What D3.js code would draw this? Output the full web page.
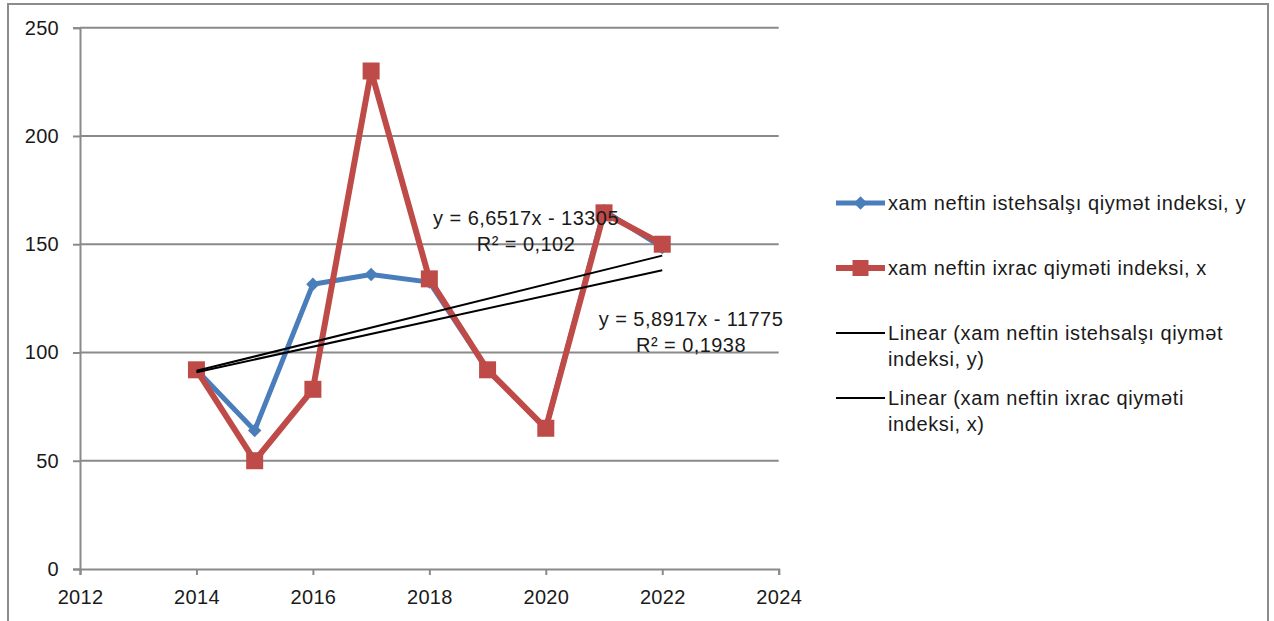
<!DOCTYPE html>
<html>
<head>
<meta charset="utf-8">
<script src="https://cdn.jsdelivr.net/npm/d3@7/dist/d3.min.js"></script>
<style>
  html, body { margin: 0; padding: 0; background: #fff; }
  svg { display: block; }
  text { font-family: "Liberation Sans", Arial, sans-serif; fill: #1a1a1a; }
</style>
</head>
<body>
<svg id="chart" width="1274" height="621"></svg>
<script>
// ---- data ----
const years = [2014, 2015, 2016, 2017, 2018, 2019, 2020, 2021, 2022];
const productionIndex = [92, 64, 131.5, 136, 132.5, 92, 65, 165.5, 148.5];   // y (blue)
const exportIndex = [92, 50, 83, 230, 134, 92, 65, 164.5, 150];              // x (red)
const xTicks = [2012, 2014, 2016, 2018, 2020, 2022, 2024];
const yTicks = [0, 50, 100, 150, 200, 250];
const seriesNames = [
  "xam neftin istehsalşı qiymət indeksi, y",
  "xam neftin ixrac qiyməti indeksi, x"
];
const trendNames = [
  ["Linear (xam neftin istehsalşı qiymət", "indeksi, y)"],
  ["Linear (xam neftin ixrac qiyməti", "indeksi, x)"]
];
// trend equations as labelled: [slope, intercept]
const trendProduction = [5.8917, -11775];
const trendExport = [6.6517, -13305];
const trendProductionLabel = ["y = 5,8917x - 11775", "R² = 0,1938"];
const trendExportLabel = ["y = 6,6517x - 13305", "R² = 0,102"];

// ---- layout ----
const svg = d3.select("#chart");
const blue = "#4a7ebb", red = "#be4b48", gridCol = "#8a8a8a";
const x = d3.scaleLinear().domain([2012, 2024]).range([80, 778.7]);
const y = d3.scaleLinear().domain([0, 250]).range([569, 27.7]);

// outer border
svg.append("rect").attr("x", 8).attr("y", 4).attr("width", 1260).attr("height", 640)
  .attr("fill", "#fff").attr("stroke", "#8c8c8c").attr("stroke-width", 2);

// gridlines
svg.append("g").selectAll("line").data(yTicks.filter(d => d > 0)).join("line")
  .attr("x1", x(2012)).attr("x2", x(2024))
  .attr("y1", d => y(d)).attr("y2", d => y(d))
  .attr("stroke", gridCol).attr("stroke-width", 2);

// axes
const yAxis = svg.append("g").attr("transform", `translate(${x(2012)},0)`)
  .call(d3.axisLeft(y).tickValues(yTicks).tickSize(7).tickPadding(14).tickFormat(d3.format("d")));
const xAxis = svg.append("g").attr("transform", `translate(0,${y(0)})`)
  .call(d3.axisBottom(x).tickValues(xTicks).tickSize(6).tickPadding(10).tickFormat(d3.format("d")));
[yAxis, xAxis].forEach(a => {
  a.select(".domain").attr("stroke", gridCol).attr("stroke-width", 2);
  a.selectAll(".tick line").attr("stroke", gridCol).attr("stroke-width", 2);
  a.selectAll(".tick text").attr("font-size", 20).attr("font-family", "Liberation Sans, Arial, sans-serif")
    .attr("fill", "#1a1a1a").attr("letter-spacing", 0.3);
});
xAxis.selectAll(".tick text").attr("dy", "0.95em");

// series
const line = d3.line().x((d, i) => x(years[i])).y(d => y(d));
const diamondPath = d3.symbol().type(d3.symbolSquare).size(90);

// blue series
svg.append("path").datum(productionIndex).attr("d", line)
  .attr("fill", "none").attr("stroke", blue).attr("stroke-width", 5).attr("stroke-linejoin", "round");
svg.append("g").selectAll("path").data(productionIndex).join("path")
  .attr("d", diamondPath)
  .attr("transform", (d, i) => `translate(${x(years[i])},${y(d)}) rotate(45)`)
  .attr("fill", blue);

// red series
svg.append("path").datum(exportIndex).attr("d", line)
  .attr("fill", "none").attr("stroke", red).attr("stroke-width", 6).attr("stroke-linejoin", "round");
svg.append("g").selectAll("rect").data(exportIndex).join("rect")
  .attr("x", (d, i) => x(years[i]) - 8.5).attr("y", d => y(d) - 8.5)
  .attr("width", 17).attr("height", 17).attr("fill", red);

// trend lines
[trendExport, trendProduction].forEach(t => {
  const x0 = years[0], x1 = years[years.length - 1];
  svg.append("line")
    .attr("x1", x(x0)).attr("y1", y(t[0] * x0 + t[1]))
    .attr("x2", x(x1)).attr("y2", y(t[0] * x1 + t[1]))
    .attr("stroke", "#000").attr("stroke-width", 2);
});

// trend labels
function eqLabel(lines, cx, cy) {
  const g = svg.append("g");
  lines.forEach((s, i) => g.append("text").attr("x", cx).attr("y", cy + i * 26)
    .attr("text-anchor", "middle").attr("font-size", 20).attr("letter-spacing", 0.45).text(s));
}
eqLabel(trendExportLabel, 526, 225);
eqLabel(trendProductionLabel, 691, 326);

// legend
const lx0 = 836, lx1 = 885, tx = 888;
const leg = svg.append("g").attr("letter-spacing", 0.6);
// row 1
leg.append("line").attr("x1", lx0).attr("x2", lx1).attr("y1", 203).attr("y2", 203)
  .attr("stroke", blue).attr("stroke-width", 5);
leg.append("path").attr("d", diamondPath)
  .attr("transform", `translate(${(lx0 + lx1) / 2},203) rotate(45)`).attr("fill", blue);
leg.append("text").attr("x", tx).attr("y", 210).attr("font-size", 20).text(seriesNames[0]);
// row 2
leg.append("line").attr("x1", lx0).attr("x2", lx1).attr("y1", 268).attr("y2", 268)
  .attr("stroke", red).attr("stroke-width", 6);
leg.append("rect").attr("x", (lx0 + lx1) / 2 - 8).attr("y", 260).attr("width", 16).attr("height", 16).attr("fill", red);
leg.append("text").attr("x", tx).attr("y", 275).attr("font-size", 20).text(seriesNames[1]);
// rows 3, 4
[[333, trendNames[0]], [398, trendNames[1]]].forEach(([yy, names]) => {
  leg.append("line").attr("x1", lx0).attr("x2", lx1).attr("y1", yy).attr("y2", yy)
    .attr("stroke", "#000").attr("stroke-width", 2);
  names.forEach((s, i) => leg.append("text").attr("x", tx).attr("y", yy + 7 + i * 26)
    .attr("font-size", 20).text(s));
});
</script>
</body>
</html>
